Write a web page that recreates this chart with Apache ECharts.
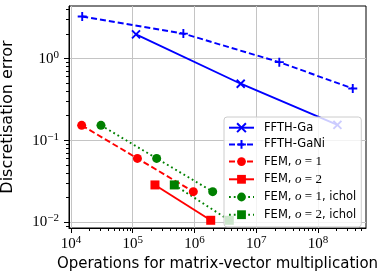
<!DOCTYPE html>
<html><head><meta charset="utf-8">
<script src="https://cdn.jsdelivr.net/npm/echarts@6/dist/echarts.min.js"></script>
<style>html,body{margin:0;padding:0;background:#fff}#c{width:382px;height:279px}</style>
</head><body><div id="c"></div>
<script>
// ---- data ----
const seriesNames = ['FFTH-Ga', 'FFTH-GaNi', 'FEM, o = 1', 'FEM, o = 2', 'FEM, o = 1, ichol', 'FEM, o = 2, ichol'];
const ffthGaX = [1.13e5, 5.6e6, 2.06e8];
const ffthGaY = [1.97, 0.49, 0.154];
const ffthGaNiX = [1.52e4, 6.6e5, 2.36e7, 3.65e8];
const ffthGaNiY = [3.25, 2.01, 0.90, 0.428];
const femO1X = [1.49e4, 1.19e5, 9.57e5];
const femO1Y = [0.152, 0.0599, 0.0235];
const femO2X = [2.29e5, 1.83e6];
const femO2Y = [0.0284, 0.0105];
const femO1IcholX = [3.06e4, 2.44e5, 1.97e6];
const femO1IcholY = [0.152, 0.0599, 0.0235];
const femO2IcholX = [4.71e5, 3.66e6];
const femO2IcholY = [0.0284, 0.0105];
const xMajorTicks = [1e4, 1e5, 1e6, 1e7, 1e8];
const yMajorTicks = [1e-2, 1e-1, 1e0];
const xLimits = [9290, 5.98e8];
const yLimits = [0.00845, 4.37];
const xAxisTitle = 'Operations for matrix-vector multiplication';
const yAxisTitle = 'Discretisation error';

function minorTicks(lim) {
  const out = [];
  const lo = Math.floor(Math.log10(lim[0])), hi = Math.ceil(Math.log10(lim[1]));
  for (let e = lo; e < hi; e++) for (let k = 2; k <= 9; k++) {
    const v = k * Math.pow(10, e);
    if (v >= lim[0] && v <= lim[1]) out.push(v);
  }
  return out;
}
function zip(a, b) { return a.map((v, i) => [v, b[i]]); }

const serif = 'Liberation Serif';
const sans = 'DejaVu Sans';
const tickRich = {
  b: { fontFamily: serif, fontSize: 15, lineHeight: 16, color: '#000', verticalAlign: 'bottom' },
  s: { fontFamily: serif, fontSize: 11, lineHeight: 11, color: '#000', verticalAlign: 'bottom', padding: [0, 0, 6, 0] }
};
function powLabel(v) {
  const e = Math.round(Math.log10(v));
  return '{b|10}{s|' + (e < 0 ? '\u2212' + (-e) : e) + '}';
}

const XS = 'path://M0,0L10,10M0,10L10,0';
const PS = 'path://M5,0L5,10M0,5L10,5';
const BLUE = '#0000ff', RED = '#ff0000', GREEN = '#008000';
const LW = 1.9;
function mk(name, xs, ys, color, symbol, size, type) {
  return {
    name, type: 'line', xAxisIndex: 0, yAxisIndex: 0,
    data: zip(xs, ys), symbol, symbolSize: size, showSymbol: true,
    lineStyle: { color, width: LW, type },
    itemStyle: { color, borderColor: color, borderWidth: (symbol.startsWith('path') ? LW : 0) },
    emphasis: { disabled: true }
  };
}

const legendLabels = {
  'FFTH-Ga': '{p|}{t|FFTH-Ga}',
  'FFTH-GaNi': '{p|}{t|FFTH-GaNi}',
  'FEM, o = 1': '{p|}{t|FEM, }{mi|o}{m| = 1}',
  'FEM, o = 2': '{p|}{t|FEM, }{mi|o}{m| = 2}',
  'FEM, o = 1, ichol': '{p|}{t|FEM, }{mi|o}{m| = 1}{t|, ichol}',
  'FEM, o = 2, ichol': '{p|}{t|FEM, }{mi|o}{m| = 2}{t|, ichol}'
};

const gridRect = { left: 69, right: 16, top: 6, bottom: 51, outerBoundsMode: 'none', containLabel: false };

const option = {
  animation: false,
  backgroundColor: '#fff',
  grid: [
    Object.assign({ show: true, borderColor: '#000', borderWidth: 1, backgroundColor: 'transparent' }, gridRect),
    Object.assign({ show: false }, gridRect)
  ],
  xAxis: [
    {
      type: 'log', logBase: 10, gridIndex: 0, min: xLimits[0], max: xLimits[1], position: 'bottom',
      axisLine: { show: true, lineStyle: { color: '#000', width: 1 } },
      axisTick: { show: true, customValues: xMajorTicks, length: 5, lineStyle: { color: '#000', width: 1 } },
      axisLabel: { customValues: xMajorTicks, formatter: powLabel, rich: tickRich, margin: 8 },
      splitLine: { show: true, lineStyle: { color: '#c4c4c4', width: 1 } },
      name: xAxisTitle, nameLocation: 'middle', nameGap: 27,
      nameTextStyle: { fontFamily: sans, fontSize: 15, color: '#000' }
    },
    {
      type: 'log', logBase: 10, gridIndex: 1, min: xLimits[0], max: xLimits[1], position: 'bottom',
      axisLine: { show: false },
      axisTick: { show: true, customValues: minorTicks(xLimits), length: 3, lineStyle: { color: '#000', width: 1 } },
      axisLabel: { show: false }, splitLine: { show: false }
    }
  ],
  yAxis: [
    {
      type: 'log', logBase: 10, gridIndex: 0, min: yLimits[0], max: yLimits[1], position: 'left',
      axisLine: { show: true, lineStyle: { color: '#000', width: 1 } },
      axisTick: { show: true, customValues: yMajorTicks, length: 5, lineStyle: { color: '#000', width: 1 } },
      axisLabel: { customValues: yMajorTicks, formatter: powLabel, rich: tickRich, margin: 10 },
      splitLine: { show: true, lineStyle: { color: '#c4c4c4', width: 1 } },
      name: yAxisTitle, nameLocation: 'middle', nameGap: 53,
      nameTextStyle: { fontFamily: sans, fontSize: 16, color: '#000' }
    },
    {
      type: 'log', logBase: 10, gridIndex: 1, min: yLimits[0], max: yLimits[1], position: 'left',
      axisLine: { show: false },
      axisTick: { show: true, customValues: minorTicks(yLimits), length: 3, lineStyle: { color: '#000', width: 1 } },
      axisLabel: { show: false }, splitLine: { show: false }
    }
  ],
  legend: {
    orient: 'vertical', left: 224, top: 117,
    data: seriesNames,
    itemWidth: 25, itemHeight: 11, itemGap: 4.7,
    padding: [4.7, 5, 5.7, 4],
    backgroundColor: 'rgba(255,255,255,0.8)', borderColor: '#cccccc', borderWidth: 1, borderRadius: 3,
    formatter: name => legendLabels[name],
    textStyle: {
      fontFamily: sans, fontSize: 11.5, lineHeight: 12, color: '#000',
      rich: {
        p: { width: 5 },
        t: { fontFamily: sans, fontSize: 11.5, lineHeight: 12, color: '#000' },
        mi: { fontFamily: serif, fontStyle: 'italic', fontSize: 13, lineHeight: 12, color: '#000' },
        m: { fontFamily: serif, fontSize: 13, lineHeight: 12, color: '#000' }
      }
    },
    selectedMode: false
  },
  series: [
    mk(seriesNames[0], ffthGaX, ffthGaY, BLUE, XS, 8, 'solid'),
    mk(seriesNames[1], ffthGaNiX, ffthGaNiY, BLUE, PS, 9, [6, 3]),
    mk(seriesNames[2], femO1X, femO1Y, RED, 'circle', 9, [6, 3]),
    mk(seriesNames[3], femO2X, femO2Y, RED, 'rect', 9, 'solid'),
    mk(seriesNames[4], femO1IcholX, femO1IcholY, GREEN, 'circle', 9, [1.8, 3]),
    mk(seriesNames[5], femO2IcholX, femO2IcholY, GREEN, 'rect', 9, [1.8, 3])
  ]
};
const chart = echarts.init(document.getElementById('c'), null, { renderer: 'canvas' });
chart.setOption(option);
</script>
</body></html>
